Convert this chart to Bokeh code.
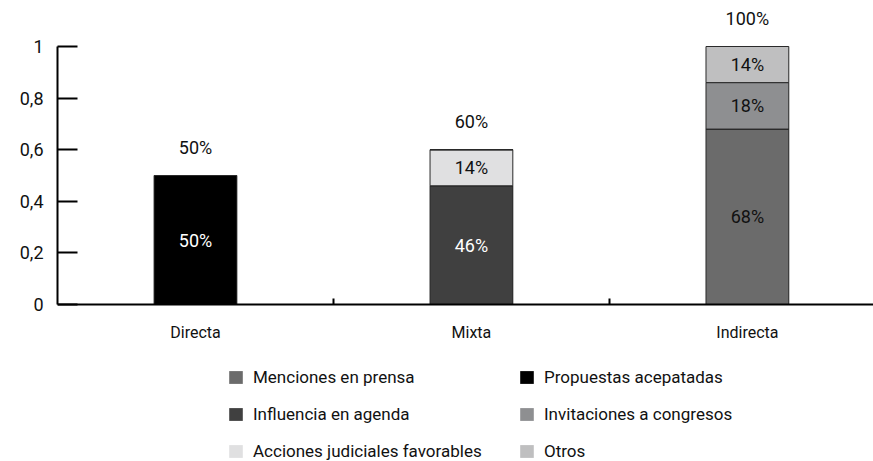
from bokeh.plotting import figure
from bokeh.models import (Range1d, FixedTicker, Legend, LegendItem, ColumnDataSource, LinearAxis)
from bokeh.core.properties import value
from bokeh.embed import file_html
from bokeh.resources import INLINE

categories = ["Directa", "Mixta", "Indirecta"]
propuestas = [0.50, 0.0, 0.0]
influencia = [0.0, 0.46, 0.0]
menciones = [0.0, 0.0, 0.68]
acciones = [0.0, 0.14, 0.0]
invitaciones = [0.0, 0.0, 0.18]
otros = [0.0, 0.0, 0.14]

series_names = ["Propuestas acepatadas", "Influencia en agenda", "Menciones en prensa",
                "Acciones judiciales favorables", "Invitaciones a congresos", "Otros"]
series_vals = [propuestas, influencia, menciones, acciones, invitaciones, otros]
series_colors = ["#000000", "#404040", "#6b6b6b", "#e0e0e1", "#8e8f91", "#bfbfc0"]
label_colors = ["white", "white", "#111111", "#111111", "#111111", "#111111"]
legend_col1 = ["Menciones en prensa", "Influencia en agenda", "Acciones judiciales favorables"]
legend_col2 = ["Propuestas acepatadas", "Invitaciones a congresos", "Otros"]
y_ticks = [0, 0.2, 0.4, 0.6, 0.8, 1.0]
y_tick_labels = ["0", "0,2", "0,4", "0,6", "0,8", "1"]

FONT = "Roboto"
xs = [i + 0.5 for i in range(len(categories))]

p = figure(width=873, height=461, output_backend="svg", toolbar_location=None,
           x_range=Range1d(0, 2.957), y_range=Range1d(-0.6085, 1.1783),
           min_border_left=57, min_border_right=0, min_border_top=0, min_border_bottom=0,
           x_axis_type=None, y_axis_type=None)
p.grid.visible = False
p.outline_line_color = None
p.background_fill_color = "white"

data = {"x": xs}
for n, v in zip(series_names, series_vals):
    data[n] = v
src = ColumnDataSource(data)
# fill-only stack (used for the legend swatches, which have no outline)
fills = p.vbar_stack(series_names, x="x", width=0.3, source=src, color=series_colors,
                     line_color=None)
# outlined stack on top
p.vbar_stack(series_names, x="x", width=0.3, source=src, fill_color=series_colors,
             line_color="#2a2a2a", line_width=1)
rmap = dict(zip(series_names, fills))

# segment labels
lx, ly, lt, lc = [], [], [], []
base = [0.0] * len(categories)
for vals, col in zip(series_vals, label_colors):
    for i, v in enumerate(vals):
        if v > 0:
            lx.append(xs[i]); ly.append(base[i] + v / 2)
            lt.append(f"{round(v * 100)}%"); lc.append(col)
        base[i] += v
p.text(x=lx, y=ly, text=lt, text_color=lc, text_align="center", text_baseline="middle",
       text_font=value(FONT), text_font_size="18px")
p.text(x=xs, y=base, text=[f"{round(b * 100)}%" for b in base], text_color="#111111",
       text_align="center", text_baseline="middle", y_offset=-28,
       text_font=value(FONT), text_font_size="18px")

# axes
xa = LinearAxis(ticker=FixedTicker(ticks=xs, minor_ticks=[1, 2]),
                major_label_overrides={x: c for x, c in zip(xs, categories)},
                fixed_location=0)
xa.major_tick_in = 0
xa.major_tick_out = 0
xa.minor_tick_in = 6
xa.minor_tick_out = 0
xa.minor_tick_line_width = 2
xa.minor_tick_line_color = "black"
xa.axis_line_width = 2
xa.axis_line_color = "black"
xa.major_label_text_font = FONT
xa.major_label_text_font_size = "16px"
xa.major_label_text_color = "#111111"
xa.major_label_standoff = 18
p.add_layout(xa, "below")

ya = LinearAxis(ticker=FixedTicker(ticks=y_ticks, minor_ticks=[]),
                major_label_overrides={t: l for t, l in zip(y_ticks, y_tick_labels)},
                bounds=(0, 1))
ya.major_tick_in = 20
ya.major_tick_out = 0
ya.major_tick_line_width = 2
ya.major_tick_line_color = "black"
ya.axis_line_width = 2
ya.axis_line_color = "black"
ya.minor_tick_line_color = None
ya.major_label_text_font = FONT
ya.major_label_text_font_size = "18px"
ya.major_label_text_color = "#111111"
ya.major_label_standoff = 14
p.add_layout(ya, "left")

def make_legend(names, loc):
    return Legend(items=[LegendItem(label=n, renderers=[rmap[n]]) for n in names],
                  location=loc, orientation="vertical",
                  glyph_width=17, glyph_height=16, label_standoff=9,
                  spacing=17, label_height=16, padding=0, margin=0,
                  label_text_font=FONT, label_text_font_size="17px",
                  label_text_color="#111111", border_line_color=None,
                  background_fill_alpha=0)

p.add_layout(make_legend(legend_col1, (170, 0)))
p.add_layout(make_legend(legend_col2, (461, 0)))

open("out.html", "w").write(file_html(p, INLINE))
